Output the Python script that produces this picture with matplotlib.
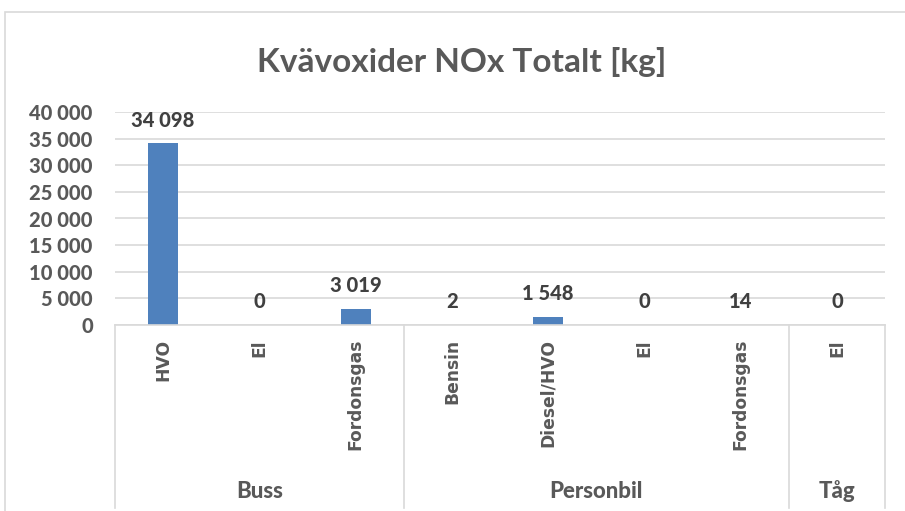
import matplotlib
matplotlib.use("Agg")
import matplotlib.pyplot as plt
from matplotlib.patches import Rectangle
from matplotlib.lines import Line2D

groups = ["Buss", "Personbil", "Tåg"]
categories = [["HVO", "El", "Fordonsgas"],
              ["Bensin", "Diesel/HVO", "El", "Fordonsgas"],
              ["El"]]
values = [34098, 0, 3019, 2, 1548, 0, 14, 0]
yticks = [0, 5000, 10000, 15000, 20000, 25000, 30000, 35000, 40000]
title = "Kvävoxider NOx Totalt [kg]"

W, H = 905, 511
FONT = "Lato"
plt.rcParams['font.family'] = [FONT, 'DejaVu Sans']
fig = plt.figure(figsize=(W/100, H/100), dpi=100)

def fx(px): return px / W
def fy(py): return 1 - py / H

fig.patches.append(Rectangle((fx(5), fy(530)), fx(930) - fx(5), fy(12) - fy(530),
                             transform=fig.transFigure, fill=False,
                             edgecolor="#d9d9d9", linewidth=1.2))

x0, x1, ytop, ybot = 115, 885, 112, 325
ax = fig.add_axes([fx(x0), fy(ybot), fx(x1) - fx(x0), fy(ytop) - fy(ybot)])
ax.set_ylim(0, 40000)
n = len(values)
ax.set_xlim(-0.5, n - 0.5)
xs = list(range(n))
ax.bar(xs, values, width=0.31, color="#4f81bd", zorder=3)
for s in ax.spines.values():
    s.set_visible(False)
ax.set_yticks(yticks)
ax.set_yticklabels([f"{v:,}".replace(",", " ") for v in yticks],
                   fontsize=14.5, fontweight="black", color="#595959")
ax.tick_params(axis="y", length=0, pad=16)
ax.set_xticks([])
ax.grid(axis="y", color="#d9d9d9", linewidth=1.2, zorder=0)
ax.set_axisbelow(True)

for x, v in zip(xs, values):
    ax.annotate(f"{v:,}".replace(",", " "), (x, v), xytext=(0, 10),
                textcoords="offset points", ha="center", va="bottom",
                fontsize=14.5, fontweight="black", color="#404040")

step = (x1 - x0) / n
line_kw = dict(color="#d9d9d9", linewidth=1.2, transform=fig.transFigure)
fig.add_artist(Line2D([fx(x0), fx(x1)], [fy(ybot), fy(ybot)], **line_kw))
i = 0
bounds = [0]
for g, cats in zip(groups, categories):
    start = i
    for c in cats:
        cx = x0 + (i + 0.5) * step
        fig.text(fx(cx), fy(339), c, rotation=90, ha="center", va="top",
                 fontsize=12.3, fontweight="bold", color="#595959",
                 family=["DejaVu Sans"])
        i += 1
    bounds.append(i)
    gx = x0 + (start + i) / 2 * step
    fig.text(fx(gx), fy(491), g, ha="center", va="center",
             fontsize=16, fontweight="black", color="#595959")
for b in bounds:
    bx = x0 + b * step
    fig.add_artist(Line2D([fx(bx), fx(bx)], [fy(ybot), fy(508)], **line_kw))

fig.text(fx(462), fy(62), title, ha="center", va="center",
         fontsize=24, fontweight="bold", color="#595959")

fig.savefig("out.png", dpi=100)
